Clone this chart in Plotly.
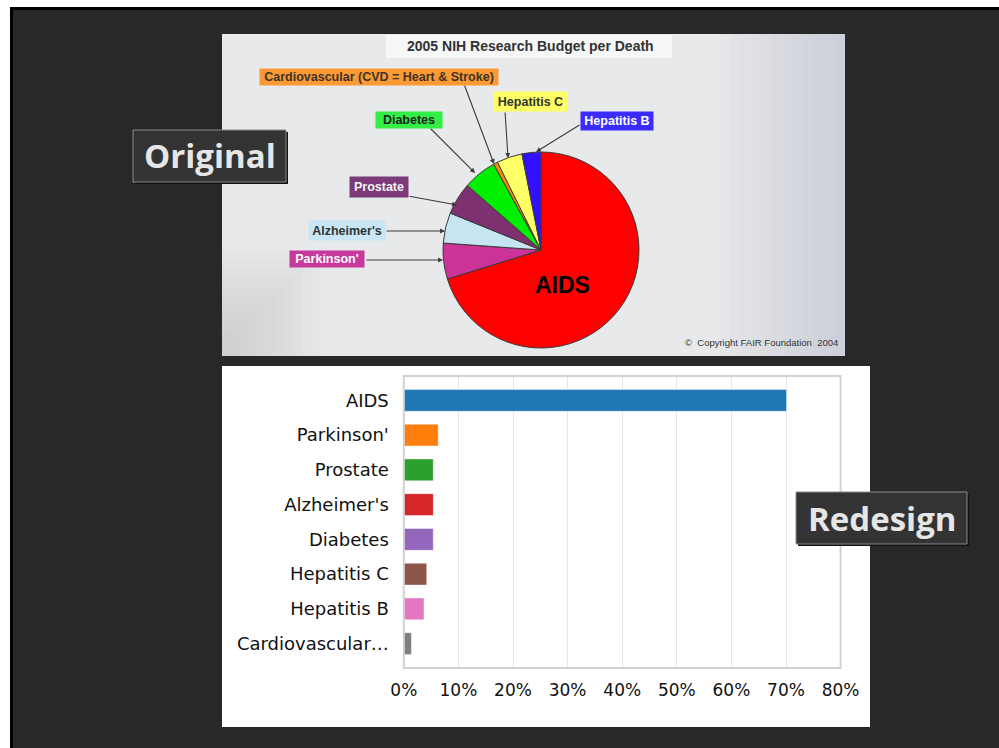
import plotly.graph_objects as go

W, H = 999, 748

# ---------------- data ----------------
# Original pie (shares)
pie_labels = ["AIDS", "Parkinson'", "Alzheimer's", "Prostate", "Diabetes",
              "Cardiovascular (CVD = Heart & Stroke)", "Hepatitis C", "Hepatitis B"]
pie_values = [70.0, 5.9, 5.0, 5.3, 5.5, 0.7, 4.2, 3.1]
pie_colors = ["#ff0000", "#cc3399", "#c6e4f2", "#7f3071", "#00ee00",
              "#ff8800", "#ffff66", "#3311ff"]

# Redesign bar chart
bar_categories = ["AIDS", "Parkinson'", "Prostate", "Alzheimer's", "Diabetes",
                  "Hepatitis C", "Hepatitis B", "Cardiovascular…"]
bar_values = [70.1, 6.3, 5.4, 5.4, 5.4, 4.2, 3.7, 1.4]
bar_colors = ["#1f77b4", "#ff7f0e", "#2ca02c", "#d62728", "#9467bd",
              "#8c564b", "#e377c2", "#7f7f7f"]
x_ticks = [0, 10, 20, 30, 40, 50, 60, 70, 80]
x_tick_labels = ["0%", "10%", "20%", "30%", "40%", "50%", "60%", "70%", "80%"]


def X(px):
    return px / W


def Y(py):
    return 1 - py / H


def rect(x0, y0, x1, y1, fill, line=None, lw=0, layer="below"):
    return dict(type="rect", xref="paper", yref="paper",
                x0=X(x0), x1=X(x1), y0=Y(y1), y1=Y(y0),
                fillcolor=fill, line=dict(color=line or fill, width=lw),
                layer=layer)


fig = go.Figure()

# pie
fig.add_trace(go.Pie(
    labels=pie_labels, values=pie_values, sort=False, direction="clockwise",
    rotation=0, marker=dict(colors=pie_colors, line=dict(color="#3a3a3a", width=1)),
    textinfo="none", showlegend=False, hoverinfo="label+percent",
    domain=dict(x=[X(443), X(639)], y=[Y(348), Y(152)])
))

# bars
fig.add_trace(go.Bar(
    x=bar_values, y=bar_categories, orientation="h",
    marker=dict(color=bar_colors, line=dict(color="rgba(255,255,255,0.45)", width=1)),
    width=0.63, showlegend=False, xaxis="x", yaxis="y"
))

shapes = []
# page frame
shapes.append(rect(10, 7, 999, 748, "#000000"))
shapes.append(rect(13, 10, 999, 748, "#282828"))
# pie panel background with soft gradient
shapes.append(rect(222, 34, 845, 356, "#e7e9ea"))
n = 12
for i in range(n):
    x0 = 720 + i * (125 / n)
    shapes.append(rect(x0, 34, 845, 356, "rgba(160,166,185,0.035)"))
for i in range(10):
    shapes.append(rect(222, 250 + i * 9, 320 - i * 9, 356, "rgba(150,154,160,0.03)"))
# title box
shapes.append(rect(386, 35, 672, 58, "#f6f7f7"))
# bar panel
shapes.append(rect(222, 366, 870, 727, "#ffffff"))
shapes.append(dict(type="rect", xref="paper", yref="paper",
                   x0=X(403.8), x1=X(840.6), y0=Y(668), y1=Y(376),
                   line=dict(color="#d2d2d2", width=2), layer="above"))
# Original / Redesign tags
shapes.append(rect(135, 132, 288, 184, "#111111", layer="above"))
shapes.append(rect(133, 130, 286, 182, "#333333", "#8a8a8a", 1, layer="above"))
shapes.append(rect(798, 494, 969, 546, "#111111", layer="above"))
shapes.append(rect(796, 492, 967, 544, "#333333", "#8a8a8a", 1, layer="above"))

annotations = []


def label(text, cx, cy, w, h, bg, color, size=12.5):
    annotations.append(dict(
        text="<b>%s</b>" % text, x=X(cx), y=Y(cy), xref="paper", yref="paper",
        showarrow=False, bgcolor=bg, width=w, height=h, borderpad=0,
        xanchor="center", yanchor="middle", align="center", valign="middle",
        font=dict(family="Liberation Sans, Arial", size=size, color=color)))


def arrow(tx, ty, hx, hy):
    annotations.append(dict(
        text="", x=X(hx), y=Y(hy), xref="paper", yref="paper",
        ax=tx - hx, ay=ty - hy, showarrow=True, arrowhead=2, arrowsize=0.9,
        arrowwidth=1.1, arrowcolor="#3c3c3c", standoff=0, startstandoff=0))


# title
annotations.append(dict(
    text="<b>2005 NIH Research Budget per Death</b>", x=X(530), y=Y(46),
    xref="paper", yref="paper", showarrow=False, xanchor="center", yanchor="middle",
    font=dict(family="Liberation Sans, Arial", size=14, color="#333333")))

arrow(464, 84, 494, 164)
arrow(505, 111, 508, 158)
arrow(429, 127, 475, 173)
arrow(581, 124, 536, 152)
arrow(408, 196, 457, 205)
arrow(385, 231, 445, 231)
arrow(365, 260, 443, 260)

label("Cardiovascular (CVD = Heart &amp; Stroke)", 379, 77, 238, 16, "#fb9a35", "#3f3326")
label("Hepatitis C", 530, 102, 73, 19, "#ffff66", "#333333")
label("Diabetes", 409, 120, 66, 16, "#33ee44", "#222222")
label("Hepatitis B", 617, 121, 72, 18, "#3a2cff", "#ffffff")
label("Prostate", 379, 187, 58, 20, "#7d3a78", "#f2f2f2")
label("Alzheimer's", 347, 230, 76, 19, "#c8e6f5", "#333333")
label("Parkinson'", 327, 259, 74, 16, "#c8399c", "#ffffff")

annotations.append(dict(
    text="<b>AIDS</b>", x=X(562), y=Y(285), xref="paper", yref="paper",
    showarrow=False, xanchor="center", yanchor="middle",
    font=dict(family="Liberation Sans, Arial", size=23, color="#000000")))
annotations.append(dict(
    text="©  Copyright FAIR Foundation  2004", x=X(761), y=Y(343), xref="paper",
    yref="paper", showarrow=False, xanchor="center", yanchor="middle",
    font=dict(family="Liberation Sans, Arial", size=9.5, color="#333333")))

annotations.append(dict(
    text="<b>Original</b>", x=X(210), y=Y(156), xref="paper", yref="paper",
    showarrow=False, xanchor="center", yanchor="middle",
    font=dict(family="Open Sans", size=33, color="#e6e6e6")))
annotations.append(dict(
    text="<b>Redesign</b>", x=X(881.5), y=Y(518), xref="paper", yref="paper",
    showarrow=False, xanchor="center", yanchor="middle",
    font=dict(family="Open Sans", size=33, color="#e6e6e6")))

fig.update_layout(
    width=W, height=H, autosize=False,
    margin=dict(l=0, r=0, t=0, b=0, pad=0, autoexpand=False),
    paper_bgcolor="#ffffff", plot_bgcolor="rgba(0,0,0,0)",
    shapes=shapes, annotations=annotations, showlegend=False,
    xaxis=dict(domain=[X(403.8), X(840.6)], range=[0, 80], tickvals=x_ticks,
               ticktext=x_tick_labels, showgrid=True, gridcolor="#e6e6e6",
               gridwidth=1, zeroline=False, showline=False, ticks="",
               ticklabelstandoff=10, anchor="y", automargin=False,
               tickfont=dict(family="DejaVu Sans", size=17, color="#111111")),
    yaxis=dict(domain=[Y(668), Y(376)], categoryorder="array",
               categoryarray=bar_categories, range=[7.7, -0.7], showgrid=False,
               zeroline=False, showline=False, ticks="", ticklabelstandoff=14,
               anchor="x", automargin=False,
               tickfont=dict(family="DejaVu Sans", size=18, color="#111111")),
)

post = (
    "document.body.style.margin='0';document.body.style.overflow='hidden';"
)

fig.write_html(
    "out.html",
    config={"responsive": False, "displayModeBar": False},
    post_script=post,
)
